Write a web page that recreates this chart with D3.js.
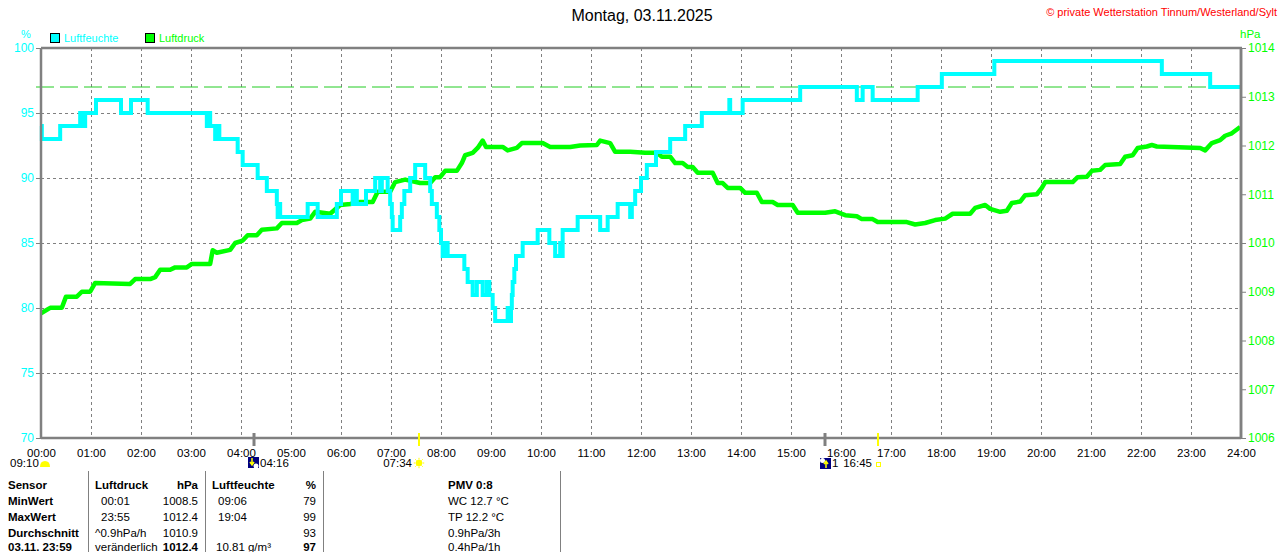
<!DOCTYPE html>
<html><head><meta charset="utf-8">
<script src="https://cdn.jsdelivr.net/npm/d3@7"></script>
<style>
body{margin:0;background:#fff;}
svg{display:block;font-family:"Liberation Sans",Arial,sans-serif;}
</style>
</head><body>
<svg id="c" width="1280" height="552"></svg>
<script>
// ---------- data ----------
const title = "Montag, 03.11.2025";
const copyright = "© private Wetterstation Tinnum/Westerland/Sylt";
const hourTicks = d3.range(0, 1441, 60);              // minutes
const humTicks = [70, 75, 80, 85, 90, 95, 100];
const presTicks = [1006, 1007, 1008, 1009, 1010, 1011, 1012, 1013, 1014];
const presRef = 1013.2;

// humidity (%) step changes: minute of day, value
const humTime = [0,1,23,47,49,50,52,53,66,96,108,128,199,202,203,209,211,214,236,242,260,271,283,284,286,287,320,332,355,360,374,377,379,390,401,407,409,416,419,421,422,431,433,436,443,449,461,467,469,475,478,480,482,486,488,508,512,518,523,530,535,538,542,545,560,563,564,565,566,568,570,578,596,610,617,623,624,626,644,671,680,692,707,709,713,720,727,738,755,773,793,826,827,842,911,979,986,998,1052,1081,1144,1345,1403,1440];
const humVal  = [94,93,94,95,94,95,94,95,96,95,96,95,94,95,94,93,94,93,92,91,90,89,88,87,88,87,88,87,88,89,88,89,88,89,90,89,90,89,88,87,86,87,88,89,90,91,90,89,88,87,86,85,84,85,84,83,82,81,82,81,82,81,80,79,80,79,80,81,82,83,84,85,86,85,84,85,84,86,87,86,87,88,87,88,89,90,91,92,93,94,95,96,95,96,97,96,97,96,97,98,99,98,97,97];

// air pressure (hPa): minute of day, value
const presTime = [0,11,25,30,43,49,59,65,107,113,131,137,143,155,161,175,181,203,206,211,227,233,242,248,259,265,283,289,307,313,323,329,347,359,371,383,398,404,419,425,437,455,467,473,479,485,499,505,509,518,524,530,534,554,560,571,577,602,611,635,647,667,671,683,689,707,725,739,745,755,761,770,776,782,788,806,812,818,824,839,845,859,865,878,884,902,908,941,953,965,979,985,998,1004,1039,1049,1061,1073,1085,1094,1115,1121,1133,1139,1151,1159,1165,1175,1181,1195,1201,1205,1238,1244,1255,1261,1271,1277,1295,1301,1310,1316,1327,1333,1339,1391,1397,1405,1415,1421,1429,1439];
const presVal  = [1008.56,1008.67,1008.67,1008.9,1008.9,1009.0,1009.0,1009.18,1009.16,1009.26,1009.26,1009.3,1009.45,1009.45,1009.5,1009.5,1009.57,1009.57,1009.85,1009.8,1009.86,1010.0,1010.05,1010.16,1010.16,1010.27,1010.3,1010.41,1010.41,1010.47,1010.5,1010.64,1010.6,1010.78,1010.8,1010.84,1010.84,1011.05,1011.05,1011.25,1011.3,1011.23,1011.23,1011.35,1011.35,1011.48,1011.48,1011.64,1011.8,1011.85,1011.95,1012.1,1011.97,1011.97,1011.9,1011.95,1012.05,1012.05,1011.97,1011.97,1012.0,1012.01,1012.1,1012.05,1011.87,1011.87,1011.85,1011.85,1011.77,1011.77,1011.64,1011.64,1011.56,1011.56,1011.44,1011.44,1011.23,1011.23,1011.13,1011.13,1011.03,1011.03,1010.84,1010.84,1010.78,1010.78,1010.62,1010.62,1010.65,1010.57,1010.55,1010.49,1010.49,1010.43,1010.43,1010.38,1010.41,1010.47,1010.5,1010.6,1010.6,1010.72,1010.78,1010.7,1010.64,1010.66,1010.82,1010.85,1010.98,1011.0,1011.13,1011.25,1011.25,1011.35,1011.36,1011.48,1011.5,1011.6,1011.62,1011.77,1011.8,1011.95,1011.98,1012.01,1011.98,1011.95,1011.9,1012.05,1012.11,1012.2,1012.25,1012.38];

// astronomical events under the time axis
const eventTime  = [256, 454, 941, 1005];
const eventKind  = ["moonrise", "sunrise", "moonset", "sunset"];
const sunshineLabel = "09:10";

// table
const tableRows = [
  ["Sensor", "Luftdruck", "hPa", "Luftfeuchte", "%", "PMV 0:8"],
  ["MinWert", "00:01", "1008.5", "09:06", "79", "WC 12.7 °C"],
  ["MaxWert", "23:55", "1012.4", "19:04", "99", "TP 12.2 °C"],
  ["Durchschnitt", "^0.9hPa/h", "1010.9", "", "93", "0.9hPa/3h"],
  ["03.11. 23:59", "veränderlich", "1012.4", "10.81 g/m³", "97", "0.4hPa/1h"]
];

// ---------- drawing ----------
const W = 1280, H = 552;
const L = 41, R = 1241, T = 48, B = 438;
const CYAN = "#00ffff", GREEN = "#00ff00", GRAY = "#808080";
const svg = d3.select("#c");
svg.append("rect").attr("width", W).attr("height", H).attr("fill", "#fff");

const x = d3.scaleLinear().domain([0, 1440]).range([L, R]);
const yH = d3.scaleLinear().domain([70, 100]).range([B, T]);
const yP = d3.scaleLinear().domain([1006, 1014]).range([B, T]);
const pad = n => String(n).padStart(2, "0");
const fmtTime = m => pad(Math.floor(m / 60)) + ":" + pad(m % 60);

// grid
const grid = svg.append("g").attr("stroke", GRAY).attr("stroke-width", 1).attr("stroke-dasharray", "3,3");
grid.selectAll("line.v").data(hourTicks.slice(1, -1)).join("line")
  .attr("x1", d => x(d) + 0.5).attr("x2", d => x(d) + 0.5).attr("y1", T).attr("y2", B);
grid.selectAll("line.h").data(humTicks.slice(1, -1)).join("line")
  .attr("x1", L).attr("x2", R).attr("y1", d => yH(d) + 0.5).attr("y2", d => yH(d) + 0.5);

// reference line (1013.2 hPa)
svg.append("line").attr("x1", 36).attr("x2", R).attr("y1", yP(presRef)).attr("y2", yP(presRef))
  .attr("stroke", "#22cc22").attr("stroke-width", 1).attr("stroke-dasharray", "18,6");

// pressure line
const presData = presTime.map((t, i) => [t, presVal[i]]);
svg.append("path").datum(presData)
  .attr("fill", "none").attr("stroke", GREEN).attr("stroke-width", 4.5).attr("stroke-linejoin", "round")
  .attr("d", d3.line().x(d => x(d[0])).y(d => yP(d[1])).curve(d3.curveLinear));

// humidity line
const humData = humTime.map((t, i) => [t, humVal[i]]);
svg.append("path").datum(humData)
  .attr("fill", "none").attr("stroke", CYAN).attr("stroke-width", 4)
  .attr("d", d3.line().x(d => x(d[0])).y(d => yH(d[1])).curve(d3.curveStepAfter));

// frame
const frame = svg.append("g").attr("stroke", GRAY).attr("stroke-width", 2.5).attr("fill", "none");
frame.append("line").attr("x1", L).attr("x2", R + 1).attr("y1", T).attr("y2", T);
frame.append("line").attr("x1", R).attr("x2", R).attr("y1", T).attr("y2", B + 1);

// axes
const axL = svg.append("g").attr("transform", `translate(${L},0)`)
  .call(d3.axisLeft(yH).tickValues(humTicks).tickSize(5).tickPadding(2).tickFormat(d3.format("d")));
const axR = svg.append("g").attr("transform", `translate(${R},0)`)
  .call(d3.axisRight(yP).tickValues(presTicks).tickSize(5).tickPadding(2).tickFormat(d3.format("d")));
const axB = svg.append("g").attr("transform", `translate(0,${B})`)
  .call(d3.axisBottom(x).tickValues(hourTicks).tickSize(0).tickPadding(11).tickFormat(d => fmtTime(d)));
[axL, axR, axB].forEach(a => { a.select(".domain").attr("stroke", GRAY).attr("stroke-width", 2.5); a.attr("font-family", null); });
axL.selectAll(".tick line").attr("stroke", GRAY);
axR.selectAll(".tick line").attr("stroke", GRAY);
axL.selectAll("text").attr("fill", CYAN).attr("font-size", 12);
axR.selectAll("text").attr("fill", GREEN).attr("font-size", 12);
axB.selectAll("text").attr("fill", "#000").attr("font-size", 11.5);
axL.select(".domain").attr("d", `M0,${T}V${B}`);
axR.select(".domain").attr("d", `M0,${T}V${B}`);
axB.select(".domain").attr("d", `M${L},0H${R}`);

// titles & legend
svg.append("text").attr("x", 642).attr("y", 21).attr("text-anchor", "middle")
  .attr("font-size", 16).attr("fill", "#000").text(title);
svg.append("text").attr("x", 1277).attr("y", 16).attr("text-anchor", "end")
  .attr("font-size", 11).attr("fill", "#ff0000").text(copyright);
svg.append("text").attr("x", 26).attr("y", 38).attr("text-anchor", "middle")
  .attr("font-size", 11).attr("fill", CYAN).text("%");
svg.append("text").attr("x", 1240).attr("y", 38)
  .attr("font-size", 11.5).attr("fill", GREEN).text("hPa");
const legend = [["Luftfeuchte", CYAN, 50], ["Luftdruck", GREEN, 145]];
legend.forEach(([name, col, lx]) => {
  svg.append("rect").attr("x", lx + 0.5).attr("y", 33.5).attr("width", 9).attr("height", 9)
    .attr("fill", col).attr("stroke", "#000").attr("stroke-width", 1);
  svg.append("text").attr("x", lx + 14).attr("y", 42).attr("font-size", 11).attr("fill", col).text(name);
});

// events
const ev = svg.append("g");
eventTime.forEach((t, i) => {
  const k = eventKind[i];
  const ex = Math.round(x(t));
  const isMoon = k.startsWith("moon");
  ev.append("line").attr("x1", ex).attr("x2", ex).attr("y1", 433).attr("y2", 446)
    .attr("stroke", isMoon ? GRAY : "#ffff00").attr("stroke-width", isMoon ? 3 : 2);
});
const lab = (tx, ty, s, anchor) => ev.append("text").attr("x", tx).attr("y", ty)
  .attr("font-size", 11.5).attr("fill", "#000").attr("text-anchor", anchor || "start").text(s);
// sunshine duration
lab(10, 467, sunshineLabel);
ev.append("path").attr("d", "M40,467 Q40,461 45,461 Q50,461 50,467 Z").attr("fill", "#ffff00");
// moonrise
const mrx = Math.round(x(eventTime[0])) - 6;
ev.append("rect").attr("x", mrx).attr("y", 457).attr("width", 11).attr("height", 11).attr("fill", "#000080");
ev.append("circle").attr("cx", mrx + 8).attr("cy", 466).attr("r", 2.5).attr("fill", "#fff");
ev.append("path").attr("d", `M${mrx+4},458V464 M${mrx+2},462L${mrx+4},465L${mrx+6},462`).attr("stroke", "#ffff00").attr("stroke-width", 1.5).attr("fill", "none");
lab(mrx + 12, 467, fmtTime(eventTime[0]));
// sunrise
lab(412, 467, fmtTime(eventTime[1]), "end");
const sx = 419, sy = 463;
ev.append("circle").attr("cx", sx).attr("cy", sy).attr("r", 3.2).attr("fill", "#ffff00");
d3.range(8).forEach(j => {
  const a = j * Math.PI / 4;
  ev.append("line").attr("x1", sx + Math.cos(a) * 3.5).attr("y1", sy + Math.sin(a) * 3.5)
    .attr("x2", sx + Math.cos(a) * 5.2).attr("y2", sy + Math.sin(a) * 5.2)
    .attr("stroke", "#ffff00").attr("stroke-width", 1);
});
// moonset
const msx = Math.round(x(eventTime[2])) - 5;
ev.append("rect").attr("x", msx).attr("y", 458).attr("width", 11).attr("height", 11).attr("fill", "#000080");
ev.append("circle").attr("cx", msx + 2.5).attr("cy", 460.5).attr("r", 2.5).attr("fill", "#fff");
ev.append("path").attr("d", `M${msx+6},468V462 M${msx+4},464L${msx+6},461L${msx+8},464`).attr("stroke", "#ffff00").attr("stroke-width", 1.5).attr("fill", "none");
lab(msx + 12, 467, "1");
// sunset
lab(872, 467, fmtTime(eventTime[3]), "end");
ev.append("rect").attr("x", 876.5).attr("y", 462.5).attr("width", 4).attr("height", 4)
  .attr("fill", "none").attr("stroke", "#ffff00").attr("stroke-width", 1);

// table
const tbl = svg.append("g").attr("font-size", 11.5).attr("fill", "#000");
[88, 205, 323, 560].forEach(sx2 => tbl.append("line").attr("x1", sx2 + 0.5).attr("x2", sx2 + 0.5)
  .attr("y1", 471).attr("y2", 552).attr("stroke", GRAY).attr("stroke-width", 1));
const rowY = [489, 505, 521, 537, 551];
tableRows.forEach((row, r) => {
  const y = rowY[r];
  const bold = r === 0;
  const t = (tx, s, anchor, b) => tbl.append("text").attr("x", tx).attr("y", y)
    .attr("text-anchor", anchor || "start").attr("font-weight", b ? "bold" : "normal").text(s);
  t(8, row[0], "start", true);
  t((r === 0 || r >= 3) ? 95 : 101, row[1], "start", bold);
  t(198, row[2], "end", bold || r === 4);
  t(r === 0 ? 212 : (r === 4 ? 216 : 218), row[3], "start", bold);
  t(316, row[4], "end", bold || r === 4);
  t(448, row[5], "start", bold);
});
</script>
</body></html>
